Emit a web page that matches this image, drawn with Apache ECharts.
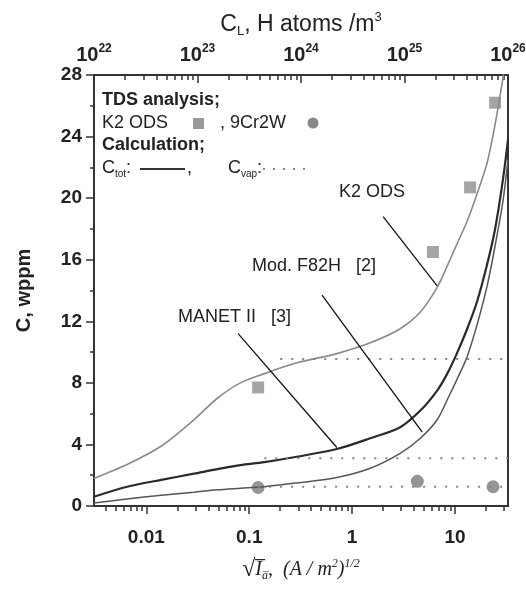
<!DOCTYPE html>
<html>
<head>
<meta charset="utf-8">
<title>C vs sqrt(Ia)</title>
<script src="https://cdn.jsdelivr.net/npm/echarts@6/dist/echarts.min.js"></script>
<style>
  html, body { margin: 0; padding: 0; background: #fff; }
  #chart { width: 526px; height: 590px; }
</style>
</head>
<body>
<div id="chart"></div>
<script>
// sqrt(Ia) sample points of the calculated curves
const xCalc = [0.0031, 0.0065, 0.014, 0.029, 0.049, 0.082, 0.14, 0.29, 0.71, 1.5, 2.9,
               4.6, 6.7, 8.4, 10.4, 13.1, 16.4, 20.5, 24.5, 29.2, 32.7];
// C_tot, wppm
const k2Tot    = [1.8, 2.7, 3.9, 5.6, 7.0, 8.0, 8.6, 9.3, 9.9, 10.6, 11.5,
                  12.6, 14.2, 15.6, 17.0, 18.5, 20.3, 22.3, 24.8, 27.8, 30.0];
const manetTot = [0.6, 1.25, 1.7, 2.1, 2.4, 2.65, 2.85, 3.2, 3.7, 4.4, 5.1,
                  6.2, 7.5, 8.6, 9.9, 11.5, 13.3, 15.7, 18.0, 21.2, 23.8];
const f82hTot  = [0.2, 0.45, 0.7, 0.9, 1.05, 1.15, 1.25, 1.5, 1.85, 2.45, 3.4,
                  4.4, 5.6, 6.9, 8.2, 9.7, 11.8, 14.3, 16.9, 19.8, 22.5];
// C_vap plateaus
const k2VapX = [0.2, 32.7];    const k2VapY = [9.55, 9.55];
const manetVapX = [0.14, 32.7]; const manetVapY = [3.1, 3.1];
const f82hVapX = [0.122, 32.7]; const f82hVapY = [1.25, 1.25];
// TDS analysis
const k2TdsX = [0.122, 6.1, 14.0, 24.5];  const k2TdsY = [7.7, 16.5, 20.7, 26.2];
const cr9TdsX = [0.122, 4.3, 23.4];       const cr9TdsY = [1.2, 1.6, 1.25];
// minor tick positions
const bottomMinor = [0.004, 0.005, 0.006, 0.007, 0.008, 0.009,
                     0.02, 0.03, 0.04, 0.05, 0.06, 0.07, 0.08, 0.09,
                     0.2, 0.3, 0.4, 0.5, 0.6, 0.7, 0.8, 0.9,
                     2, 3, 4, 5, 6, 7, 8, 9, 20, 30];
const topMinor = [2e22, 3e22, 4e22, 5e22, 6e22, 7e22, 8e22, 9e22,
                  2e23, 3e23, 4e23, 5e23, 6e23, 7e23, 8e23, 9e23,
                  2e24, 3e24, 4e24, 5e24, 6e24, 7e24, 8e24, 9e24,
                  2e25, 3e25, 4e25, 5e25, 6e25, 7e25, 8e25, 9e25];

const FONT = "'Liberation Sans', Arial, sans-serif";
const SERIF = "'Liberation Serif', serif";
const INK = '#222';
function pair(xs, ys) { return xs.map((x, i) => [x, ys[i]]); }

const chart = echarts.init(document.getElementById('chart'));

const dotted = { color: '#858585', width: 2, type: [2, 9] };
const axisLineStyle = { color: '#333', width: 2 };

chart.setOption({
  backgroundColor: '#fff',
  animation: false,
  grid: { left: 94, right: 18, top: 75, bottom: 84, containLabel: false, outerBoundsMode: 'none',
          show: true, borderColor: '#333', borderWidth: 2 },
  xAxis: [
    {
      type: 'log', position: 'bottom', min: 0.0031, max: 32.7,
      axisLine: { lineStyle: axisLineStyle },
      axisTick: { length: 8, lineStyle: { color: '#333', width: 1.5 } },
      axisLabel: { showMinLabel: false, showMaxLabel: false, margin: 22, color: INK,
                   fontFamily: FONT, fontSize: 19, fontWeight: 'bold' },
      splitLine: { show: false },
      name: '{r|√}{i|I\u0305}{s|a\u0305}{i|,  (A / m}{p|2}{i|)}{p|1/2}',
      nameLocation: 'middle', nameGap: 52,
      nameTextStyle: {
        color: INK,
        rich: {
          r: { fontFamily: SERIF, fontSize: 24, color: INK },
          i: { fontFamily: SERIF, fontStyle: 'italic', fontSize: 20, color: INK },
          s: { fontFamily: SERIF, fontStyle: 'italic', fontSize: 12, color: INK, padding: [12, 0, 0, 0] },
          p: { fontFamily: SERIF, fontStyle: 'italic', fontSize: 12, color: INK, padding: [0, 0, 12, 0] }
        }
      }
    },
    {
      type: 'log', position: 'top', min: 1e22, max: 1e26,
      axisLine: { lineStyle: axisLineStyle },
      axisTick: { inside: true, length: 8, lineStyle: { color: '#333', width: 1.5 } },
      axisLabel: {
        margin: 8, showMinLabel: true, showMaxLabel: true,
        formatter: v => '{b|10}{e|' + Math.round(Math.log10(v)) + '}',
        rich: {
          b: { fontFamily: FONT, fontSize: 20, fontWeight: 'bold', color: INK },
          e: { fontFamily: FONT, fontSize: 12, fontWeight: 'bold', color: INK, padding: [0, 0, 12, 0] }
        }
      },
      splitLine: { show: false },
      name: '{c|C}{s|L}{c|, H atoms /m}{p|3}',
      nameLocation: 'middle', nameGap: 37,
      nameTextStyle: {
        rich: {
          c: { fontFamily: FONT, fontSize: 23, color: INK },
          s: { fontFamily: FONT, fontSize: 13, color: INK, padding: [14, 0, 0, 0] },
          p: { fontFamily: FONT, fontSize: 13, color: INK, padding: [0, 0, 14, 0] }
        }
      }
    },
    {
      type: 'log', position: 'bottom', min: 0.0031, max: 32.7,
      axisLine: { show: false }, axisLabel: { show: false }, splitLine: { show: false },
      axisTick: { customValues: bottomMinor, length: 5, lineStyle: { color: '#333', width: 1.5 } }
    },
    {
      type: 'log', position: 'top', min: 1e22, max: 1e26,
      axisLine: { show: false }, axisLabel: { show: false }, splitLine: { show: false },
      axisTick: { inside: true, customValues: topMinor, length: 5, lineStyle: { color: '#333', width: 1.5 } }
    }
  ],
  yAxis: {
    type: 'value', min: 0, max: 28, interval: 4,
    axisLine: { show: true, lineStyle: axisLineStyle },
    axisTick: { length: 8, lineStyle: { color: '#333', width: 1.5 } },
    minorTick: { show: true, splitNumber: 2, length: 4, lineStyle: { color: '#333', width: 1.5 } },
    axisLabel: { margin: 12, color: INK, fontFamily: FONT, fontSize: 19, fontWeight: 'bold' },
    splitLine: { show: false },
    name: 'C, wppm', nameLocation: 'middle', nameGap: 60,
    nameTextStyle: { color: INK, fontFamily: FONT, fontSize: 20, fontWeight: 'bold' }
  },
  series: [
    { name: 'K2 ODS', type: 'line', data: pair(xCalc, k2Tot), symbol: 'none', smooth: 0.3,
      lineStyle: { color: '#8a8a8a', width: 1.6 },
      markLine: {
        silent: true, symbol: ['none', 'arrow'], symbolSize: [0, 9],
        lineStyle: { color: '#111', width: 1.3, type: 'solid' },
        label: { show: false },
        data: [
          [{ coord: [2.0, 18.8] }, { coord: [6.7, 14.3] }],
          [{ coord: [0.51, 13.7] }, { coord: [4.8, 4.8] }],
          [{ coord: [0.078, 11.2] }, { coord: [0.71, 3.8] }]
        ]
      }
    },
    { name: 'MANET II', type: 'line', data: pair(xCalc, manetTot), symbol: 'none', smooth: 0.3,
      lineStyle: { color: '#2a2a2a', width: 2.2 } },
    { name: 'Mod. F82H', type: 'line', data: pair(xCalc, f82hTot), symbol: 'none', smooth: 0.3,
      lineStyle: { color: '#555', width: 1.5 } },
    { type: 'line', data: pair(k2VapX, k2VapY), symbol: 'none', lineStyle: dotted },
    { type: 'line', data: pair(manetVapX, manetVapY), symbol: 'none', lineStyle: dotted },
    { type: 'line', data: pair(f82hVapX, f82hVapY), symbol: 'none', lineStyle: dotted },
    { name: 'K2 ODS TDS', type: 'scatter', data: pair(k2TdsX, k2TdsY), symbol: 'rect', symbolSize: 12,
      itemStyle: { color: '#8e8e8e' } },
    { name: '9Cr2W', type: 'scatter', data: pair(cr9TdsX, cr9TdsY), symbol: 'circle', symbolSize: 13,
      itemStyle: { color: '#7a7a7a' } }
  ],
  graphic: [
    // legend block
    { type: 'text', x: 102, y: 100, style: { text: 'TDS analysis;', font: 'bold 18px ' + FONT, fill: INK, verticalAlign: 'middle' } },
    { type: 'text', x: 102, y: 123, style: { text: 'K2 ODS', font: '18px ' + FONT, fill: INK, verticalAlign: 'middle' } },
    { type: 'rect', shape: { x: 193, y: 118, width: 11, height: 11 }, style: { fill: '#9a9a9a' } },
    { type: 'text', x: 220, y: 123, style: { text: ', 9Cr2W', font: '18px ' + FONT, fill: INK, verticalAlign: 'middle' } },
    { type: 'circle', shape: { cx: 313, cy: 123, r: 5.5 }, style: { fill: '#888' } },
    { type: 'text', x: 102, y: 145, style: { text: 'Calculation;', font: 'bold 18px ' + FONT, fill: INK, verticalAlign: 'middle' } },
    { type: 'text', x: 102, y: 168, style: {
        text: '{c|C}{s|tot}{c|:}', verticalAlign: 'middle',
        rich: { c: { font: '18px ' + FONT, fill: INK }, s: { font: '10px ' + FONT, fill: INK, padding: [12, 0, 0, 0] } } } },
    { type: 'line', shape: { x1: 140, y1: 169, x2: 185, y2: 169 }, style: { stroke: '#333', lineWidth: 2 } },
    { type: 'text', x: 187, y: 168, style: { text: ',', font: '18px ' + FONT, fill: INK, verticalAlign: 'middle' } },
    { type: 'text', x: 228, y: 168, style: {
        text: '{c|C}{s|vap}{c|:}', verticalAlign: 'middle',
        rich: { c: { font: '18px ' + FONT, fill: INK }, s: { font: '10px ' + FONT, fill: INK, padding: [12, 0, 0, 0] } } } },
    { type: 'line', shape: { x1: 263, y1: 169, x2: 312, y2: 169 }, style: { stroke: '#888', lineWidth: 2, lineDash: [2, 8] } },
    // curve annotations
    { type: 'text', x: 372, y: 192, style: { text: 'K2 ODS', font: '18px ' + FONT, fill: INK, align: 'center', verticalAlign: 'middle' } },
    { type: 'text', x: 252, y: 266, style: { text: 'Mod. F82H   [2]', font: '18px ' + FONT, fill: INK, verticalAlign: 'middle' } },
    { type: 'text', x: 178, y: 317, style: { text: 'MANET II   [3]', font: '18px ' + FONT, fill: INK, verticalAlign: 'middle' } }
  ]
});
</script>
</body>
</html>
